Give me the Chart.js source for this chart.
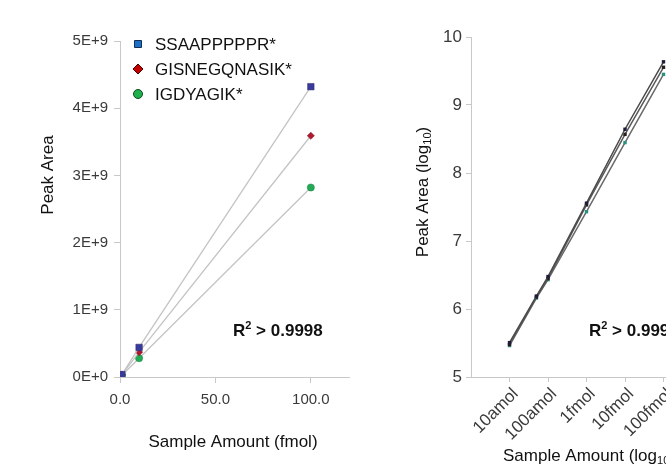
<!DOCTYPE html>
<html>
<head>
<meta charset="utf-8">
<script src="https://cdn.jsdelivr.net/npm/chart.js@4.4.1/dist/chart.umd.min.js"></script>
<style>
  html, body { margin: 0; padding: 0; overflow: hidden; background: #fff; width: 666px; height: 465px; }
  #left { position: absolute; left: 0; top: 0; }
  #right { position: absolute; left: 380px; top: 0; }
</style>
</head>
<body>
<canvas id="left" width="380" height="465"></canvas>
<canvas id="right" width="360" height="480"></canvas>
<script>
// datos
const amounts = [0.01, 0.05, 0.1, 1, 10, 100]; // fmol
const seriesNames = ['SSAAPPPPPR*', 'GISNEGQNASIK*', 'IGDYAGIK*'];
const ssaArea = [3.2e5, 1.55e6, 3.0e6, 3.6e7, 4.4e8, 4.32e9];
const gisArea = [3.0e5, 1.5e6, 2.8e6, 3.4e7, 3.7e8, 3.59e9];
const igdArea = [2.9e5, 1.45e6, 2.7e6, 2.7e7, 2.8e8, 2.82e9];

const linTicksY = [0, 1e9, 2e9, 3e9, 4e9, 5e9];
const linTickLabelsY = ['0E+0', '1E+9', '2E+9', '3E+9', '4E+9', '5E+9'];
const linTicksX = [0, 50, 100];
const linTickLabelsX = ['0.0', '50.0', '100.0'];
const logTicksX = [0.01, 0.1, 1, 10, 100];
const logTickLabelsX = ['10amol', '100amol', '1fmol', '10fmol', '100fmol'];
const logTicksY = [5, 6, 7, 8, 9, 10];

const FONT = '"Liberation Sans", Arial, sans-serif';
const axisGray = '#c8c8c8';
const tickText = '#3a3a3a';

// texto con sub/superindices
function drawRich(ctx, it) {
  ctx.save();
  ctx.translate(it.x, it.y);
  if (it.rotate) ctx.rotate(it.rotate);
  ctx.fillStyle = it.color || '#111';
  ctx.textBaseline = 'middle';
  ctx.textAlign = 'left';
  const fontFor = p => (it.bold ? 'bold ' : '') + ((p.sub || p.sup) ? Math.round(it.size * 0.65) : it.size) + 'px ' + FONT;
  let total = 0;
  it.parts.forEach(p => { ctx.font = fontFor(p); total += ctx.measureText(p.t).width; });
  let x = it.align === 'center' ? -total / 2 : 0;
  it.parts.forEach(p => {
    ctx.font = fontFor(p);
    const dy = p.sub ? it.size * 0.3 : (p.sup ? -it.size * 0.3 : 0);
    ctx.fillText(p.t, x, dy);
    x += ctx.measureText(p.t).width;
  });
  ctx.restore();
}

function textLayer(items) {
  return {
    id: 'textLayer',
    afterDraw(chart) { items.forEach(it => drawRich(chart.ctx, it)); }
  };
}

// leyenda dentro del area del grafico
const legendStyles = [
  { shape: 'square', fill: '#1f6fc4', stroke: '#10305a' },
  { shape: 'diamond', fill: '#c40000', stroke: '#4a0000' },
  { shape: 'circle', fill: '#1fb04c', stroke: '#0a4a20' }
];
const legendPlugin = {
  id: 'insideLegend',
  afterDraw(chart) {
    const ctx = chart.ctx;
    const x0 = chart.chartArea.left + 18;
    const y0 = chart.chartArea.top + 3;
    seriesNames.forEach((name, i) => {
      const st = legendStyles[i];
      const y = y0 + i * 25;
      ctx.save();
      ctx.fillStyle = st.fill;
      ctx.strokeStyle = st.stroke;
      ctx.lineWidth = 1;
      ctx.beginPath();
      if (st.shape === 'square') ctx.rect(x0 - 3.5, y - 3.5, 7, 7);
      else if (st.shape === 'diamond') { ctx.moveTo(x0, y - 5); ctx.lineTo(x0 + 5, y); ctx.lineTo(x0, y + 5); ctx.lineTo(x0 - 5, y); ctx.closePath(); }
      else ctx.arc(x0, y, 4.5, 0, Math.PI * 2);
      ctx.fill();
      ctx.stroke();
      ctx.fillStyle = '#111';
      ctx.font = '17px ' + FONT;
      ctx.textBaseline = 'middle';
      ctx.fillText(name, x0 + 17, y + 1);
      ctx.restore();
    });
  }
};

function pts(area, logY) {
  return amounts.map((a, i) => ({ x: a, y: logY ? Math.log10(area[i]) : area[i] }));
}

function axisCommon(size) {
  return {
    border: { display: true, color: axisGray, width: 1 },
    grid: { drawOnChartArea: false, drawTicks: true, color: axisGray, tickLength: 6 },
    ticks: { color: tickText, font: { size: size, family: FONT }, autoSkip: false }
  };
}

// grafico lineal
const leftY = axisCommon(15);
Object.assign(leftY, {
  min: 0, max: 5e9,
  afterBuildTicks: s => { s.ticks = linTicksY.map(v => ({ value: v })); },
  afterFit: s => { s.width = 120; }
});
leftY.ticks.padding = 6;
leftY.ticks.callback = (v, i) => linTickLabelsY[i];

const leftX = axisCommon(15);
Object.assign(leftX, {
  type: 'linear', min: 0, max: 120,
  afterBuildTicks: s => { s.ticks = linTicksX.map(v => ({ value: v })); },
  afterFit: s => { s.height = 88; }
});
leftX.ticks.padding = 8;
leftX.ticks.maxRotation = 0;
leftX.ticks.callback = (v, i) => linTickLabelsX[i];

new Chart(document.getElementById('left'), {
  type: 'line',
  data: {
    datasets: [
      { label: seriesNames[0], data: pts(ssaArea, false), pointStyle: 'rect', pointRadius: 4.6, backgroundColor: '#3a3a9c', borderColor: '#c4c4c4', pointBorderColor: '#2a2a70', pointBorderWidth: 0.5, borderWidth: 1.3 },
      { label: seriesNames[1], data: pts(gisArea, false), pointStyle: 'rectRot', pointRadius: 3.6, backgroundColor: '#b01830', borderColor: '#c4c4c4', pointBorderColor: '#7a1020', pointBorderWidth: 0.5, borderWidth: 1.3 },
      { label: seriesNames[2], data: pts(igdArea, false), pointStyle: 'circle', pointRadius: 3.6, backgroundColor: '#22aa55', borderColor: '#c4c4c4', pointBorderColor: '#1a8040', pointBorderWidth: 0.5, borderWidth: 1.3 }
    ]
  },
  options: {
    responsive: false,
    devicePixelRatio: 1,
    animation: false,
    layout: { padding: { left: 0, top: 41, right: 31, bottom: 0 } },
    scales: { x: leftX, y: leftY },
    plugins: { legend: { display: false }, tooltip: { enabled: false } }
  },
  plugins: [legendPlugin, textLayer([
    { parts: [{ t: 'Peak Area' }], x: 48, y: 175, size: 17, rotate: -Math.PI / 2, align: 'center' },
    { parts: [{ t: 'Sample Amount (fmol)' }], x: 233, y: 442, size: 17, align: 'center' },
    { parts: [{ t: 'R' }, { t: '2', sup: true }, { t: ' > 0.9998' }], x: 233, y: 331, size: 17, bold: true }
  ])]
});

// grafico logaritmico
const rightY = axisCommon(17);
Object.assign(rightY, {
  min: 5, max: 10,
  afterBuildTicks: s => { s.ticks = logTicksY.map(v => ({ value: v })); },
  afterFit: s => { s.width = 91; }
});
rightY.grid.tickLength = 5;
rightY.ticks.padding = 4;

const rightX = axisCommon(17);
Object.assign(rightX, {
  type: 'logarithmic', min: 0.001, max: 1000,
  afterBuildTicks: s => { s.ticks = logTicksX.map(v => ({ value: v })); },
  afterFit: s => { s.height = 103; }
});
rightX.grid.tickLength = 5;
rightX.ticks.padding = 2;
rightX.ticks.minRotation = 45;
rightX.ticks.maxRotation = 45;
rightX.ticks.labelOffset = 6;
rightX.ticks.callback = (v, i) => logTickLabelsX[i];

new Chart(document.getElementById('right'), {
  type: 'line',
  data: {
    datasets: [
      { label: seriesNames[0], data: pts(ssaArea, true), pointStyle: 'rect', pointRadius: 2.4, backgroundColor: '#1c1c3a', borderColor: '#4a4a4a', pointBorderWidth: 0, borderWidth: 1.5 },
      { label: seriesNames[1], data: pts(gisArea, true), pointStyle: 'rect', pointRadius: 2.4, backgroundColor: '#2a1c1c', borderColor: '#5a5a5a', pointBorderWidth: 0, borderWidth: 1.5 },
      { label: seriesNames[2], data: pts(igdArea, true), pointStyle: 'rect', pointRadius: 2.4, backgroundColor: '#2a9080', borderColor: '#6a6a6a', pointBorderWidth: 0, borderWidth: 1.5 }
    ]
  },
  options: {
    responsive: false,
    devicePixelRatio: 1,
    animation: false,
    layout: { padding: { left: 0, top: 37, right: 38, bottom: 0 } },
    scales: { x: rightX, y: rightY },
    plugins: { legend: { display: false }, tooltip: { enabled: false } }
  },
  plugins: [textLayer([
    { parts: [{ t: 'Peak Area (log' }, { t: '10', sub: true }, { t: ')' }], x: 43, y: 192, size: 17, rotate: -Math.PI / 2, align: 'center' },
    { parts: [{ t: 'Sample Amount (log' }, { t: '10', sub: true }, { t: ' fmol)' }], x: 123, y: 456, size: 17 },
    { parts: [{ t: 'R' }, { t: '2', sup: true }, { t: ' > 0.9998' }], x: 209, y: 331, size: 17, bold: true }
  ])]
});
</script>
</body>
</html>
